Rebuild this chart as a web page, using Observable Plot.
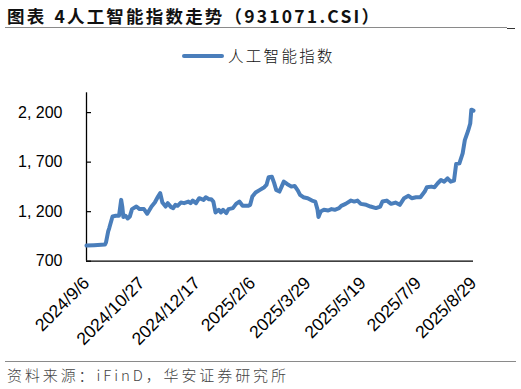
<!DOCTYPE html>
<html>
<head>
<meta charset="utf-8">
<script src="https://cdn.jsdelivr.net/npm/d3@7"></script>
<script src="https://cdn.jsdelivr.net/npm/@observablehq/plot@0.6"></script>
<style>
  html, body { margin: 0; padding: 0; background: #fff; }
  #wrap { position: relative; width: 521px; height: 389px; overflow: hidden; background: #fff; }
  #chart { position: absolute; left: 0; top: 0; }
  .abs { position: absolute; white-space: nowrap; }
  #title { left: 7px; top: 3px; font: bold 17.5px "Noto Sans CJK SC", sans-serif; color: #111; letter-spacing: 2.2px; }
  #title .sp { display: inline-block; width: 8px; }
  #rule1 { left: 5px; top: 27px; width: 502px; height: 1px; background: #8a8a8a; }
  #rule1b { left: 507px; top: 28px; width: 8px; height: 1px; background: #333; }
  #legsw { left: 182px; top: 54px; width: 42px; height: 4px; background: #4a7ebb; border-radius: 2px; }
  #legtx { left: 228px; top: 44px; font: 300 15.5px "Noto Sans CJK SC", sans-serif; color: #111; letter-spacing: 2.3px; }
  #rule2 { left: 5px; top: 361px; width: 511px; height: 1px; background: #8a8a8a; }
  #source { left: 7px; top: 364px; font: 300 15px "Noto Sans CJK SC", sans-serif; color: #444; letter-spacing: 2.9px; }
</style>
</head>
<body>
<div id="wrap">
  <div id="chart"></div>
  <div id="title" class="abs">图表<span class="sp"></span>4人工智能指数走势（931071.CSI）</div>
  <div id="rule1" class="abs"></div>
  <div id="rule1b" class="abs"></div>
  <div id="legsw" class="abs"></div>
  <div id="legtx" class="abs">人工智能指数</div>
  <div id="rule2" class="abs"></div>
  <div id="source" class="abs">资料来源：iFinD，华安证券研究所</div>
</div>
<script>
const seriesName = "人工智能指数";
const dates = [
"2024-09-06","2024-09-13","2024-09-23","2024-09-24","2024-09-26","2024-09-27","2024-09-30",
"2024-10-03","2024-10-06","2024-10-08","2024-10-09","2024-10-10","2024-10-12","2024-10-14",
"2024-10-16","2024-10-18","2024-10-22","2024-10-25","2024-10-29","2024-11-01","2024-11-05",
"2024-11-08","2024-11-11","2024-11-13","2024-11-15","2024-11-18","2024-11-20","2024-11-23",
"2024-11-25","2024-11-27","2024-11-29","2024-12-02","2024-12-05","2024-12-09","2024-12-11",
"2024-12-13","2024-12-16","2024-12-19","2024-12-23","2024-12-25","2024-12-28","2024-12-30",
"2025-01-01","2025-01-03","2025-01-06","2025-01-08","2025-01-10","2025-01-13","2025-01-15",
"2025-01-19","2025-01-22","2025-01-25","2025-01-28","2025-02-02","2025-02-04","2025-02-06",
"2025-02-09","2025-02-13","2025-02-17","2025-02-19","2025-02-21","2025-02-24","2025-02-26",
"2025-02-28","2025-03-03","2025-03-05","2025-03-07","2025-03-10","2025-03-14","2025-03-17",
"2025-03-20","2025-03-22","2025-03-25","2025-03-29","2025-04-02","2025-04-05","2025-04-07",
"2025-04-08","2025-04-10","2025-04-13","2025-04-17","2025-04-20","2025-04-23","2025-04-27",
"2025-04-29","2025-05-03","2025-05-08","2025-05-11","2025-05-14","2025-05-17","2025-05-22",
"2025-05-26","2025-05-31","2025-06-04","2025-06-06","2025-06-10","2025-06-14","2025-06-18",
"2025-06-22","2025-06-26","2025-06-30","2025-07-03","2025-07-07","2025-07-11","2025-07-15",
"2025-07-17","2025-07-21","2025-07-24","2025-07-27","2025-07-30","2025-08-02","2025-08-05",
"2025-08-08","2025-08-11","2025-08-13","2025-08-16","2025-08-19","2025-08-21","2025-08-24",
"2025-08-26","2025-08-27","2025-08-29"
];
const values = [
858,862,868,890,1001,1035,1152,
1159,1159,1319,1252,1146,1159,1132,
1152,1226,1252,1226,1226,1179,1252,
1292,1353,1387,1292,1252,1286,1246,
1236,1269,1259,1292,1286,1302,1286,
1312,1286,1336,1319,1346,1326,1326,
1302,1192,1219,1192,1219,1186,1226,
1236,1279,1302,1259,1259,1269,1353,
1393,1420,1447,1470,1547,1553,1493,
1420,1403,1453,1503,1480,1453,1460,
1413,1370,1346,1336,1312,1302,1226,
1146,1202,1219,1212,1226,1219,1236,
1259,1279,1312,1302,1312,1279,1269,
1252,1236,1252,1302,1312,1279,1292,
1269,1336,1360,1336,1346,1346,1403,
1447,1453,1447,1487,1520,1503,1537,
1503,1513,1681,1688,1788,1922,2015,
2090,2230,2220
];
const xTickLabels = ["2024/9/6","2024/10/27","2024/12/17","2025/2/6","2025/3/29","2025/5/19","2025/7/9","2025/8/29"];
const yTicks = [700, 1200, 1700, 2200];
const yDomain = [700, 2400];

const parseTick = s => { const [y, m, d] = s.split("/").map(Number); return new Date(Date.UTC(y, m - 1, d)); };
const xTicks = xTickLabels.map(parseTick);
const data = dates.map((d, i) => ({date: new Date(d + "T00:00:00Z"), value: values[i]}));
const fmtDate = d => `${d.getUTCFullYear()}/${d.getUTCMonth() + 1}/${d.getUTCDate()}`;
const fmtY = v => d3.format(",")(v).replace(",", ", ");

const W = 521, H = 389;
const mL = 86, mR = 48, mT = 92.3, mB = 389 - 260.7;
const plot = Plot.plot({
  width: W, height: H,
  marginLeft: mL, marginRight: mR, marginTop: mT, marginBottom: mB,
  style: {fontFamily: "'Liberation Sans', Arial, sans-serif", fontSize: "16px", color: "#000", background: "transparent"},
  x: {type: "utc", domain: [xTicks[0], xTicks[xTicks.length - 1]]},
  y: {domain: yDomain},
  marks: [
    Plot.axisY({ticks: yTicks, tickFormat: fmtY, tickSize: 0, tickPadding: 24, fontSize: 16, label: null}),
    Plot.tickY(yTicks, {y: d => d, stroke: "#000", strokeWidth: 1.2, insetRight: W - mL - mR - 5}),
    Plot.axisX({ticks: xTicks, tickFormat: fmtDate, tickSize: 0, tickPadding: 19, tickRotate: -45, fontSize: 17.5, label: null}),
    Plot.ruleY([yDomain[0]], {stroke: "#000", strokeWidth: 1.3}),
    Plot.ruleX([xTicks[0]], {stroke: "#000", strokeWidth: 1.3}),
    Plot.line(data, {x: "date", y: "value", stroke: "#4a7ebb", strokeWidth: 4, strokeLinejoin: "round", strokeLinecap: "round"})
  ]
});
document.getElementById("chart").appendChild(plot);
</script>
</body>
</html>
